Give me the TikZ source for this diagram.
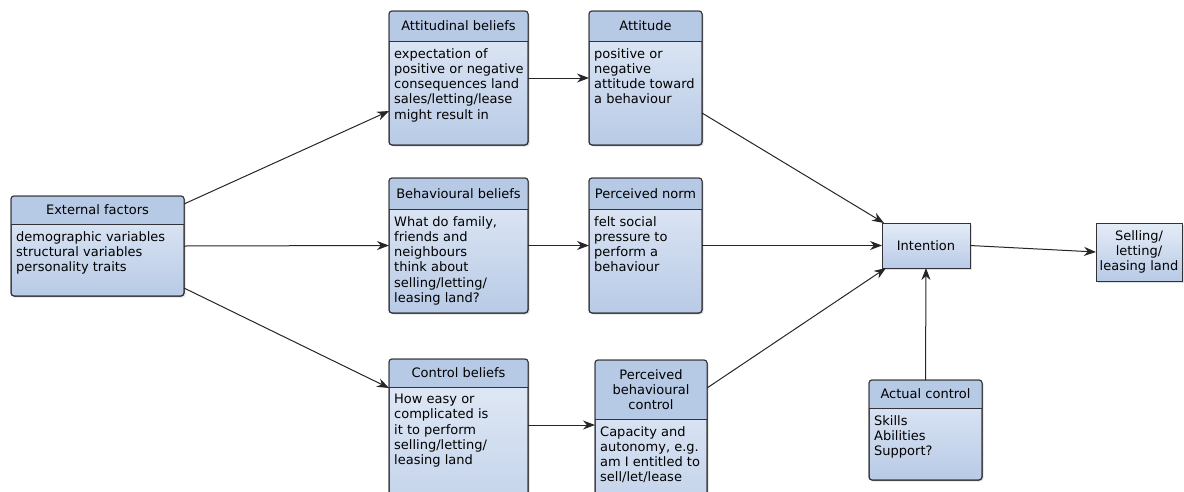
\documentclass[tikz,border=0pt]{standalone}
\usepackage{fontspec}
\setmainfont{DejaVu Sans}
\usepackage{tikz}
\usetikzlibrary{
  arrows.meta,
  positioning,
  calc,
  shadows
}
\definecolor{framec}{RGB}{50,50,55}
\definecolor{headc}{RGB}{182,201,229}
\definecolor{bodytop}{RGB}{228,236,247}
\definecolor{bodybot}{RGB}{184,202,230}

% class box: name, x, y, width, height, header height, title, body
\newcommand{\classbox}[8]{%
  \node[classframe, minimum width=#4pt, minimum height=#5pt, anchor=north west] (#1) at (#2,#3) {};
  \begin{scope}
    \clip[rounded corners=3pt] (#1.north west) rectangle (#1.south east);
    \fill[headc] (#1.north west) rectangle ([yshift=-#6pt]#1.north east);
  \end{scope}
  \draw[frameline] ([yshift=-#6pt]#1.north west) -- ([yshift=-#6pt]#1.north east);
  \draw[frameline, rounded corners=3pt] (#1.north west) rectangle (#1.south east);
  \node[classtext, align=center] (#1-title) at ($(#1.north)+(0,#6/2)$) {#7};
  \node[classtext, align=left, anchor=north west] (#1-body) at ([xshift=5pt, yshift=-#6pt-7pt]#1.north west) {#8};
}

\begin{document}
\begin{tikzpicture}[
      x=1pt, y=-1pt,
      classframe/.style={draw=framec, line width=1pt, rounded corners=3pt,
        top color=bodytop, bottom color=bodybot, inner sep=0pt, outer sep=0pt,
        drop shadow={shadow xshift=1.5pt, shadow yshift=-1.5pt, opacity=0.25}},
      plainframe/.style={draw=framec, line width=1pt,
        top color=bodytop, bottom color=bodybot, inner sep=0pt, outer sep=0pt,
        align=center, text=black, font=\fontsize{13}{15.3}\selectfont,
        drop shadow={shadow xshift=1.5pt, shadow yshift=-1.5pt, opacity=0.25}},
      frameline/.style={draw=framec, line width=1pt},
      classtext/.style={inner sep=0pt, text=black, font=\fontsize{13}{15.3}\selectfont},
      flow/.style={draw=black!85, line width=1pt, -{Stealth[length=12pt, width=9pt]}}
  ]
      \useasboundingbox (0,0) rectangle (1184,491);
      \clip (0,0) rectangle (1184,491);

      % Caixas da esquerda e do meio
      \classbox{ext}{11}{196}{173}{100}{28}{External factors}
        {demographic variables\\structural variables\\personality traits}
      \classbox{ab}{389}{11}{139}{134}{30}{Attitudinal beliefs}
        {expectation of\\positive or negative\\consequences land\\sales/letting/lease\\might result in}
      \classbox{att}{589}{11}{113}{134}{30}{Attitude}
        {positive or\\negative\\attitude toward\\a behaviour}
      \classbox{bb}{389}{178}{139}{135}{31}{Behavioural beliefs}
        {What do family,\\friends and\\neighbours\\think about\\selling/letting/\\leasing land?}
      \classbox{pn}{589}{178}{113}{135}{31}{Perceived norm}
        {felt social\\pressure to\\perform a\\behaviour}
      \classbox{cb}{389}{359}{139}{200}{28}{Control beliefs}
        {How easy or\\complicated is\\it to perform\\selling/letting/\\leasing land}
      \classbox{pbc}{595}{360}{112}{200}{59}{Perceived\\behavioural\\control}
        {Capacity and\\autonomy, e.g.\\am I entitled to\\sell/let/lease}

      % Caixas da direita
      \classbox{ac}{869}{380}{113}{100}{28}{Actual control}
        {Skills\\Abilities\\Support?}
      \node[plainframe, minimum width=88pt, minimum height=45pt, anchor=north west] (int) at (882,223) {Intention};
      \node[plainframe, minimum width=86pt, minimum height=58pt, anchor=north west] (sell) at (1096,223) {Selling/\\letting/\\leasing land};

      % Setas
      \draw[flow] ([yshift=-8pt]ext.north east) -- ([yshift=-33pt]ab.west);
      \draw[flow] (ext.east) -- (bb.west);
      \draw[flow] ([yshift=8pt]ext.south east) -- ([yshift=-29pt]cb.north west);
      \draw[flow] (ab.east) -- (att.west);
      \draw[flow] (bb.east) -- (pn.west);
      \draw[flow] ([yshift=-66pt]cb.north east) -- ([yshift=-65pt]pbc.north west);
      \draw[flow] ([yshift=-35pt]att.east) -- ([xshift=2pt]int.north west);
      \draw[flow] (pn.east) -- (int.west);
      \draw[flow] ([yshift=-28pt]pbc.north east) -- ([xshift=4pt]int.south west);
      \draw[flow] (ac.north) -- (int.south);
      \draw[flow] (int.east) -- (sell.west);

  \end{tikzpicture}
\end{document}
